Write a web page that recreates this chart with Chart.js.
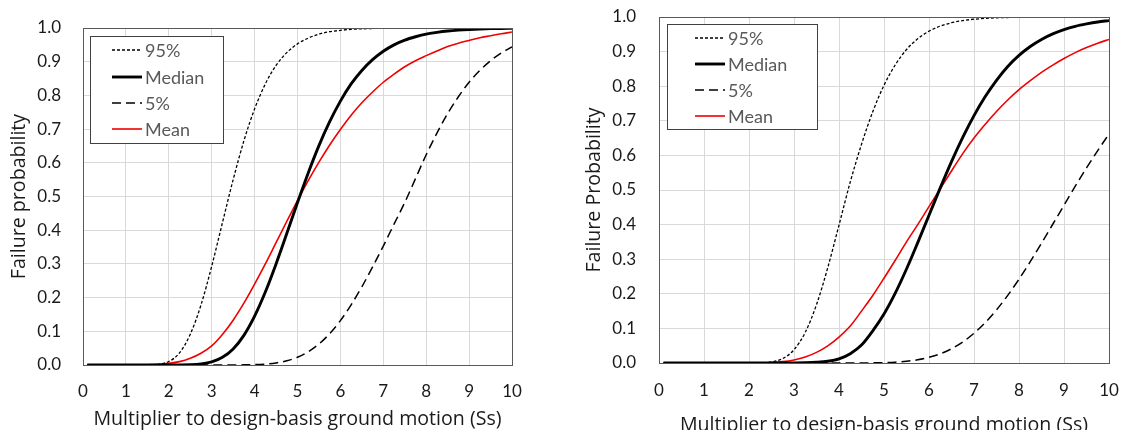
<!DOCTYPE html>
<html><head><meta charset="utf-8">
<script src="https://cdn.jsdelivr.net/npm/chart.js@4.4.1/dist/chart.umd.min.js"></script>
<style>
html,body{margin:0;padding:0;background:#fff;overflow:hidden}
.box{position:absolute;top:0;width:560px;height:430px}
</style></head><body>
<div class="box" style="left:0"><canvas id="c1"></canvas></div>
<div class="box" style="left:564px"><canvas id="c2"></canvas></div>
<script>
// ---- data ----
const xs = [0.1,0.5,1,1.5, 2,2.25,2.5,2.75, 3,3.25,3.5,3.75, 4,4.25,4.5,4.75, 5,5.25,5.5,5.75, 6,6.25,6.5,6.75, 7,7.25,7.5,7.75, 8,8.25,8.5,8.75, 9,9.25,9.5,9.75, 10];
const seriesNames = ['95%','Median','5%','Mean'];

const left95     = [0,0,0,0.0002, 0.0105,0.036,0.091,0.178, 0.293,0.422,0.55,0.665, 0.76,0.834,0.889,0.927, 0.953,0.97,0.982,0.989, 0.993,0.996,0.9976,0.9986, 0.9992,0.9995,0.9997,0.9998, 1,1,1,1, 1,1,1,1, 1];
const leftMedian = [0,0,0,0, 0,0.0001,0.0007,0.003, 0.009,0.0227,0.0477,0.088, 0.145,0.2165,0.30,0.39, 0.482,0.57,0.651,0.722, 0.783,0.834,0.874,0.906, 0.931,0.95,0.964,0.974, 0.982,0.987,0.991,0.9938, 0.9957,0.997,0.998,0.9986, 0.999];
const left5      = [0,0,0,0, 0,0,0,0, 0,0,0.0001,0.0004, 0.0011,0.0028,0.0062,0.0125, 0.0231,0.0392,0.0623,0.093, 0.1318,0.1785,0.232,0.291, 0.353,0.418,0.482,0.553, 0.624,0.688,0.746,0.796, 0.839,0.874,0.903,0.926, 0.944];
const leftMean   = [0,0,0,0.0005, 0.005,0.01,0.02,0.035, 0.057,0.0908,0.133,0.1835, 0.24,0.30,0.363,0.426, 0.488,0.547,0.602,0.653, 0.699,0.741,0.778,0.81, 0.839,0.863,0.885,0.903, 0.918,0.932,0.945,0.955, 0.963,0.971,0.977,0.983, 0.988];

const right95     = [0,0,0,0, 0,0.0005,0.0032,0.013, 0.0383,0.0885,0.1686,0.2755, 0.3986,0.523,0.632,0.726, 0.8026,0.8617,0.906,0.937, 0.959,0.9737,0.9834,0.9897, 0.9936,0.9961,0.9977,0.9986, 0.9992,1,1,1, 1,1,1,1, 1];
const rightMedian = [0,0,0,0, 0,0,0,0, 0.0002,0.0007,0.002,0.005, 0.012,0.027,0.052,0.093, 0.1416,0.2018,0.2716,0.348, 0.427,0.506,0.582,0.652, 0.715,0.77,0.817,0.857, 0.889,0.9147,0.9352,0.9513, 0.9637,0.9731,0.98,0.9856, 0.9895];
const right5      = [0,0,0,0, 0,0,0,0, 0,0,0,0, 0,0,0.0002,0.0005, 0.0011,0.0025,0.005,0.0094, 0.0163,0.0266,0.0412,0.0608, 0.0859,0.1168,0.1535,0.1956, 0.2423,0.2929,0.346,0.401, 0.456,0.511,0.5637,0.614, 0.6617];
const rightMean   = [0,0,0,0, 0.0001,0.0005,0.0016,0.004, 0.0089,0.0174,0.0307,0.0497, 0.075,0.1067,0.15,0.195, 0.245,0.297,0.35,0.40, 0.452,0.503,0.555,0.605, 0.65,0.69,0.727,0.76, 0.79,0.816,0.84,0.861, 0.88,0.897,0.9116,0.9243, 0.9353];

const xTickLabels = ['0','1','2','3','4','5','6','7','8','9','10'];
const yTickLabels = ['0.0','0.1','0.2','0.3','0.4','0.5','0.6','0.7','0.8','0.9','1.0'];
const xTitle = 'Multiplier to design-basis ground motion (Ss)';
const yTitleLeft = 'Failure probability';
const yTitleRight = 'Failure Probability';

// ---- styling ----
const FONT = 'Lato, "Open Sans", sans-serif';
const TFONT = '"Open Sans", Lato, sans-serif';
const styles = [
  {borderColor:'#000', borderWidth:1.3, borderDash:[3,2]},
  {borderColor:'#000', borderWidth:2.9, borderDash:[]},
  {borderColor:'#000', borderWidth:1.5, borderDash:[9,5]},
  {borderColor:'#f00000', borderWidth:1.6, borderDash:[]}
];

function pts(vals){ return xs.map((x,i)=>({x:x,y:vals[i]})); }

const framePlugin = {
  id:'frame',
  afterDraw(chart){
    const a = chart.chartArea, ctx = chart.ctx;
    ctx.save();
    ctx.strokeStyle = '#595959'; ctx.lineWidth = 1;
    ctx.strokeRect(Math.round(a.left)+0.5, Math.round(a.top)+0.5, Math.round(a.right-a.left), Math.round(a.bottom-a.top));
    ctx.restore();
  }
};
const boxLegendPlugin = {
  id:'boxLegend',
  afterDraw(chart, args, o){
    const ctx = chart.ctx;
    ctx.save();
    ctx.fillStyle = '#fff';
    ctx.fillRect(o.x0, o.y0, o.x1-o.x0, o.y1-o.y0);
    ctx.strokeStyle = '#404040'; ctx.lineWidth = 1;
    ctx.strokeRect(o.x0+0.5, o.y0+0.5, o.x1-o.x0, o.y1-o.y0);
    chart.data.datasets.forEach((ds,i)=>{
      const y = o.rows[i];
      ctx.strokeStyle = ds.borderColor; ctx.lineWidth = ds.borderWidth;
      ctx.setLineDash(ds.borderDash || []);
      ctx.beginPath(); ctx.moveTo(o.lx0, y); ctx.lineTo(o.lx1, y); ctx.stroke();
      ctx.setLineDash([]);
      ctx.fillStyle = '#595959';
      ctx.font = '18px ' + FONT;
      ctx.textBaseline = 'middle'; ctx.textAlign = 'left';
      ctx.fillText(ds.label, o.tx, y+1);
    });
    ctx.restore();
  }
};

function makeChart(id, series, L){
  return new Chart(document.getElementById(id), {
    type:'line',
    data:{ datasets: series.map((v,i)=>Object.assign({
      label: seriesNames[i], data: pts(v), pointRadius:0, fill:false,
      cubicInterpolationMode:'monotone'
    }, styles[i])) },
    options:{
      responsive:true, maintainAspectRatio:false, animation:false,
      layout:{padding:{left:0, right:L.padRight, top:L.padTop, bottom:0}},
      plugins:{
        legend:{display:false}, tooltip:{enabled:false},
        boxLegend: L.legend
      },
      scales:{
        x:{type:'linear', min:0, max:10,
          afterFit(s){ s.height = L.xHeight; s.paddingLeft = 0; s.paddingRight = 0; },
          grid:{color:'#d9d9d9', drawTicks:false},
          border:{display:false},
          ticks:{stepSize:1, padding:L.xTickPad, color:'#1a1a1a', font:{family:FONT, size:17},
            callback:(v,i)=>xTickLabels[i], maxRotation:0},
          title:{display:true, text:xTitle, color:'#1a1a1a', font:{family:TFONT, size:19.6, lineHeight:L.xTitleLH}, padding:{top:0,bottom:0}}
        },
        y:{min:0, max:1,
          afterFit(s){ s.width = L.yWidth; s.paddingTop = 0; s.paddingBottom = 0; },
          grid:{color:'#d9d9d9', drawTicks:false},
          border:{display:false},
          ticks:{stepSize:0.1, padding:L.yTickPad, color:'#1a1a1a', font:{family:FONT, size:17},
            callback:(v,i)=>yTickLabels[i]},
          title:{display:true, text:L.yTitle, color:'#1a1a1a', font:{family:TFONT, size:19.6, lineHeight:1.2}, padding:{top:L.yTitlePad,bottom:0}}
        }
      }
    },
    plugins:[framePlugin, boxLegendPlugin]
  });
}

makeChart('c1', [left95,leftMedian,left5,leftMean], {
  padRight:48, padTop:28, xHeight:65, yWidth:83, xTickPad:16, yTickPad:22,
  xTitleLH:1.1, yTitle:yTitleLeft, yTitlePad:8,
  legend:{x0:90, y0:36, x1:223, y1:143, lx0:112, lx1:142, tx:145, rows:[50,77,103,129]}
});
makeChart('c2', [right95,rightMedian,right5,rightMean], {
  padRight:15, padTop:17, xHeight:67, yWidth:95, xTickPad:17, yTickPad:23,
  xTitleLH:0.5, yTitle:yTitleRight, yTitlePad:19,
  legend:{x0:103, y0:24, x1:253, y1:129, lx0:131, lx1:161, tx:164, rows:[38,64,90,116]}
});
</script>
</body></html>
